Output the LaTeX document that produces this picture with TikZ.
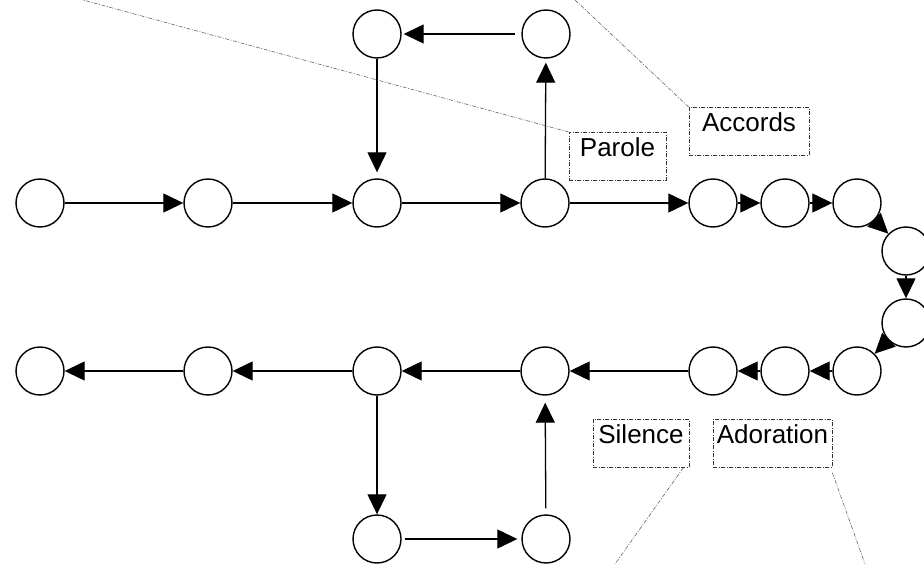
\documentclass[tikz,border=0pt]{standalone}
\usepackage{fontspec}
\setmainfont{Liberation Sans}
\usetikzlibrary{arrows.meta}
\begin{document}
\begin{tikzpicture}[x=1pt,y=-1pt,
  circ/.style={circle,draw,fill=white,minimum size=48pt,inner sep=0pt,line width=1.4pt},
  conn/.style={line width=1.3pt,-{Triangle[length=20pt,width=19pt]}},
  lbl/.style={draw=black!80,line width=0.7pt,dash pattern=on 4pt off 1.5pt on 1pt off 1.5pt,
    font=\fontsize{26}{31}\selectfont,text height=19pt,text depth=19pt,inner ysep=5pt,inner xsep=0pt,anchor=north},
  leader/.style={draw=black!60,line width=0.6pt,dash pattern=on 4pt off 1.5pt on 1pt off 1.5pt}]
\useasboundingbox (0,0) rectangle (924,564);
% top row
\node[circ] (t1) at (40,203) {};
\node[circ] (t2) at (208,203) {};
\node[circ] (t3) at (377,203) {};
\node[circ] (t4) at (545,203) {};
\node[circ] (t5) at (713,203) {};
\node[circ] (t6) at (785,203) {};
\node[circ] (t7) at (857,203) {};
% right
\node[circ] (r1) at (906,251) {};
\node[circ] (r2) at (906,323) {};
% bottom row
\node[circ] (b7) at (857,371) {};
\node[circ] (b6) at (785,371) {};
\node[circ] (b5) at (713,371) {};
\node[circ] (b4) at (545,371) {};
\node[circ] (b3) at (377,371) {};
\node[circ] (b2) at (208,371) {};
\node[circ] (b1) at (40,371) {};
% upper loop
\node[circ] (u1) at (377,34) {};
\node[circ] (u2) at (546,34) {};
% lower loop
\node[circ] (d1) at (377,539) {};
\node[circ] (d2) at (546,539) {};
% connectors
\draw[conn] (t1) -- (t2);
\draw[conn] (t2) -- (t3);
\draw[conn] (t3) -- (t4);
\draw[conn] (t4) -- (t5);
\draw[conn] (t5) -- (t6);
\draw[conn] (t6) -- (t7);
\draw[conn] (t7) -- (r1);
\draw[conn] (r1) -- (r2);
\draw[conn] (r2) -- (b7);
\draw[conn] (b7) -- (b6);
\draw[conn] (b6) -- (b5);
\draw[conn] (b5) -- (b4);
\draw[conn] (b4) -- (b3);
\draw[conn] (b3) -- (b2);
\draw[conn] (b2) -- (b1);
\draw[conn,shorten >=4pt] (t4) -- (u2);
\draw[conn,shorten <=6pt,shorten >=2pt] (u2) -- (u1);
\draw[conn,shorten >=6pt] (u1) -- (t3);
\draw[conn] (b3) -- (d1);
\draw[conn,shorten <=3pt,shorten >=4pt] (d1) -- (d2);
\draw[conn,shorten <=6pt,shorten >=7pt] (d2) -- (b4);
% labels
\node[lbl,minimum width=97pt] (par) at (617.5,132) {Parole};
\node[lbl,minimum width=120pt] (acc) at (749,107) {Accords};
\node[lbl,minimum width=96pt] (sil) at (641,419) {Silence};
\node[lbl,minimum width=119pt] (ado) at (772.5,419) {Adoration};
% leader lines
\coordinate (e1) at (83,0);
\coordinate (e2) at (575,0);
\coordinate (e3) at (615,564);
\coordinate (e4) at (865,564);
\draw[leader] (par.north west) -- (e1);
\draw[leader] (acc.north west) -- (e2);
\draw[leader] ([xshift=-6pt]sil.south east) -- (e3);
\draw[leader] ([yshift=-5pt]ado.south east) -- (e4);
\end{tikzpicture}
\end{document}
